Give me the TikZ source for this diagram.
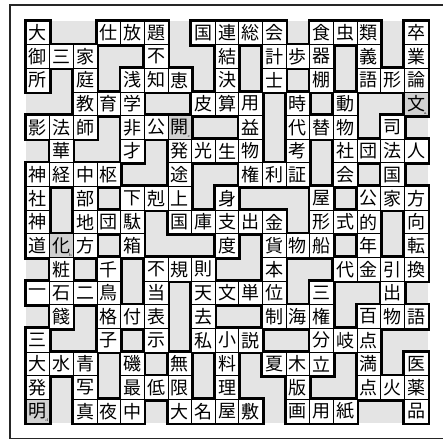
\documentclass[tikz,border=0pt]{standalone}
\usepackage{fontspec}
\newfontfamily\jp{Noto Sans CJK JP}
\definecolor{gridgray}{HTML}{E4E4E4}
\definecolor{darkcell}{HTML}{D0D0D0}
\newcount\cellcol
\def\cellrow{0}
\def\cw{23.65}
\def\gx{26}
\def\gy{21}
\def\gridrow#1#2{\def\cellrow{#1}\cellcol=0 \scanchars#2\relax}
\def\scanchars#1{\ifx#1\relax\else\ifx#1.\else\docell{#1}\fi\advance\cellcol by 1 \expandafter\scanchars\fi}
\expandafter\def\csname dk@3-16\endcsname{a}
\expandafter\def\csname dk@4-6\endcsname{c}
\expandafter\def\csname dk@9-1\endcsname{b}
\expandafter\def\csname dk@16-0\endcsname{d}
\def\allrows{%
\gridrow{0}{大..仕放題.国連総会.食虫類.卒}%
\gridrow{1}{御三家..不..結.計歩器.義.業}%
\gridrow{2}{所.庭.浅知恵.決.士.棚.語形論}%
\gridrow{3}{..教育学..皮算用.時.動..文}%
\gridrow{4}{影法師.非公開..益.代替物.司.}%
\gridrow{5}{.華..才.発光生物.考.社団法人}%
\gridrow{6}{神経中枢..途..権利証.会.国.}%
\gridrow{7}{社.部.下剋上.身...屋.公家方}%
\gridrow{8}{神.地団駄.国庫支出金.形式的.向}%
\gridrow{9}{道化方.箱...度.貨物船.年.転}%
\gridrow{10}{.粧.千.不規則..本..代金引換}%
\gridrow{11}{一石二鳥.当.天文単位.三..出.}%
\gridrow{12}{.餞.格付表.去..制海権.百物語}%
\gridrow{13}{三..子.示.私小説..分岐点..}%
\gridrow{14}{大水青.磯.無.料.夏木立.満.医}%
\gridrow{15}{発.写.最低限.理..版..点火薬}%
\gridrow{16}{明.真夜中.大名屋敷.画用紙..品}%
}
\tikzset{
  cellbox/.style={draw=black, fill=white, line width=0.8pt, minimum size=23.65pt, inner sep=0pt, font=\jp\fontsize{18}{18}\selectfont},
  markbox/.style={inner sep=0.2pt, font=\fontsize{4}{4}\selectfont},
}
\begin{document}
\begin{tikzpicture}[x=1pt,y=-1pt]
\useasboundingbox (0,0) rectangle (443,443);
\fill[white] (0,0) rectangle (443,443);
\draw[line width=1.1pt, black!85] (10,5) rectangle (447,438.5);
\fill[fill=gridgray] (\gx,\gy) rectangle ({\gx+17*\cw},{\gy+17*\cw});
% pass 1: thick outlines
\def\docell#1{\draw[line width=4.2pt, black] ({\gx+\cw*\the\cellcol},{\gy+\cw*\cellrow}) rectangle ++(\cw,\cw);}
\allrows
% pass 2: white cells and text
\def\docell#1{%
  \ifcsname dk@\cellrow-\the\cellcol\endcsname
    \node[cellbox, fill=darkcell] (c\cellrow-\the\cellcol) at ({\gx+\cw*(\the\cellcol+0.5)},{\gy+\cw*(\cellrow+0.5)}) {#1};
    \node[markbox, anchor=south east] (m\cellrow-\the\cellcol) at ({\gx+\cw*(\the\cellcol+1)-1},{\gy+\cw*(\cellrow+1)-1}) {\csname dk@\cellrow-\the\cellcol\endcsname};
  \else
    \node[cellbox] (c\cellrow-\the\cellcol) at ({\gx+\cw*(\the\cellcol+0.5)},{\gy+\cw*(\cellrow+0.5)}) {#1};
  \fi}
\allrows
\end{tikzpicture}
\end{document}
